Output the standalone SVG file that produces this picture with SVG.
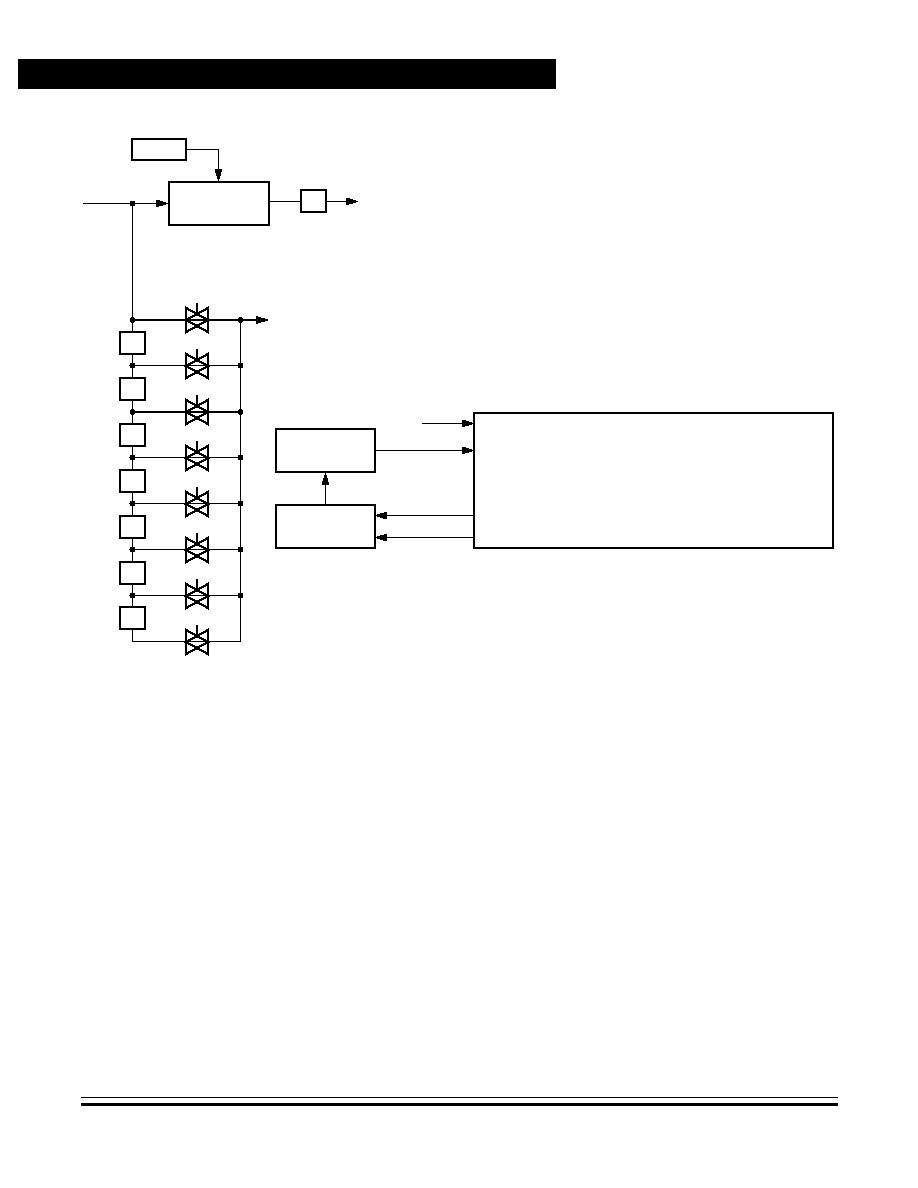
<svg xmlns="http://www.w3.org/2000/svg" xmlns:xlink="http://www.w3.org/1999/xlink" width="918" height="1188" viewBox="0 0 918 1188" shape-rendering="crispEdges">
<style>
.box{fill:#fff;stroke:#000;stroke-width:2}
.w{fill:none;stroke:#000;stroke-width:1}
.wb{fill:none;stroke:#000;stroke-width:2}
.a{fill:none;stroke:#000;stroke-width:1;marker-end:url(#ah)}
.d{fill:#000}
</style>
<defs>
<marker id="ah" markerUnits="userSpaceOnUse" markerWidth="13" markerHeight="9" refX="12" refY="4" orient="auto" overflow="visible">
<path d="M0,0 L3.500,1 L12,3.500 L12,4.500 L3.500,7 L0,8Z" fill="#000"/>
</marker>
<g id="valve">
<path d="M-11,-12V12L11,0ZM11,-12V12L-11,0Z" fill="#fff"/>
<path d="M-11,-12V12L11,0ZM11,-12V12L-11,0Z" fill="none" stroke="#000" stroke-width="2.400"/>
<path d="M0,-17V-5" stroke="#000" stroke-width="2" fill="none"/>
</g>
</defs>
<rect x="18" y="59" width="538" height="30" fill="#000"/>
<rect x="81" y="1097" width="757" height="1" fill="#000"/>
<rect x="81" y="1103" width="757" height="3" fill="#000"/>
<g id="connectors">
<path class="a" d="M83,203.500H168"/>
<path class="w" d="M132.500,203.500V331M187,149.500H218.500"/>
<path class="a" d="M218.500,149.500V181"/>
<path class="w" d="M270,201.500H301"/>
<path class="a" d="M327,201.500H358"/>
<path class="wb" d="M132,320H240"/>
<path class="a" d="M240,320H268" style="stroke-width:2"/>
<path class="w" d="M240.500,320V641.500H132.500V630"/>
<path class="w" d="M132.500,354V377M132.500,400V423M132.500,446V469M132.500,492V515M132.500,538V561M132.500,584V607"/>
<path class="w" d="M132,365.500H240M132,457.500H240M132,503.500H240M132,549.500H240M132,595.500H240"/>
<path class="wb" d="M132,412H240"/>
<path class="a" d="M422,423.500H474"/>
<path class="a" d="M376,450.500H474"/>
<path class="a" d="M325.500,505V473"/>
<path class="a" d="M474,515.500H375"/>
<path class="a" d="M474,537.500H375"/>
</g>
<g id="junctions" class="d">
<circle cx="132.500" cy="203.500" r="3"/>
<circle cx="132.500" cy="320" r="3"/><circle cx="240.500" cy="320" r="3"/>
<circle cx="132.500" cy="365.500" r="3"/><circle cx="240.500" cy="365.500" r="3"/>
<circle cx="132.500" cy="412" r="3"/><circle cx="240.500" cy="412" r="3"/>
<circle cx="132.500" cy="457.500" r="3"/><circle cx="240.500" cy="457.500" r="3"/>
<circle cx="132.500" cy="503.500" r="3"/><circle cx="240.500" cy="503.500" r="3"/>
<circle cx="132.500" cy="549.500" r="3"/><circle cx="240.500" cy="549.500" r="3"/>
<circle cx="132.500" cy="595.500" r="3"/><circle cx="240.500" cy="595.500" r="3"/>
</g>
<g id="n-top"><rect class="box" x="132" y="139" width="54" height="21"/></g>
<g id="n-main"><rect class="box" x="169" y="182" width="100" height="43"/></g>
<g id="n-small"><rect class="box" x="301" y="190" width="25" height="22"/></g>
<g id="r1"><rect class="box" x="120" y="332" width="25" height="22"/></g>
<g id="r2"><rect class="box" x="120" y="378" width="25" height="22"/></g>
<g id="r3"><rect class="box" x="120" y="424" width="25" height="22"/></g>
<g id="r4"><rect class="box" x="120" y="470" width="25" height="22"/></g>
<g id="r5"><rect class="box" x="120" y="516" width="25" height="22"/></g>
<g id="r6"><rect class="box" x="120" y="562" width="25" height="22"/></g>
<g id="r7"><rect class="box" x="120" y="607" width="25" height="22"/></g>
<g id="v1"><use href="#valve" xlink:href="#valve" x="197" y="320"/></g>
<g id="v2"><use href="#valve" xlink:href="#valve" x="197" y="366"/></g>
<g id="v3"><use href="#valve" xlink:href="#valve" x="197" y="412"/></g>
<g id="v4"><use href="#valve" xlink:href="#valve" x="197" y="458"/></g>
<g id="v5"><use href="#valve" xlink:href="#valve" x="197" y="504"/></g>
<g id="v6"><use href="#valve" xlink:href="#valve" x="197" y="550"/></g>
<g id="v7"><use href="#valve" xlink:href="#valve" x="197" y="596"/></g>
<g id="v8"><use href="#valve" xlink:href="#valve" x="197" y="642"/></g>
<g id="n-b1"><rect class="box" x="276" y="429" width="99" height="43"/></g>
<g id="n-b2"><rect class="box" x="276" y="505" width="99" height="43"/></g>
<g id="n-big"><rect class="box" x="474" y="413" width="359" height="135"/></g>
</svg>
